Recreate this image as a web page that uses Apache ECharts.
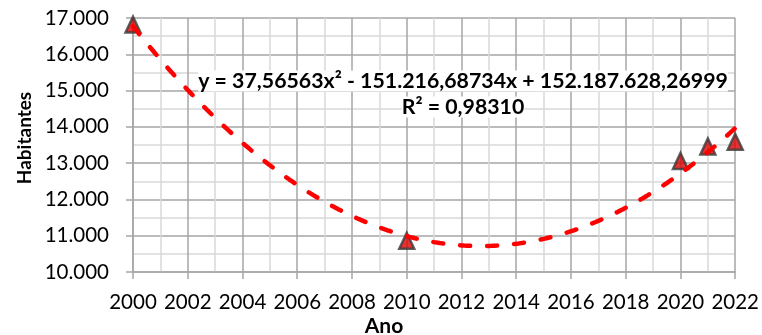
<!DOCTYPE html>
<html>
<head>
<meta charset="utf-8">
<script src="https://cdn.jsdelivr.net/npm/echarts@6/dist/echarts.min.js"></script>
<style>
  html, body { margin: 0; padding: 0; background: #ffffff; }
  #chart { width: 762px; height: 335px; }
</style>
</head>
<body>
<div id="chart"></div>
<script>
// Population by year (habitantes)
const years = [2000, 2010, 2020, 2021, 2022];
const habitantes = [16820, 10860, 13060, 13460, 13590];

// Axis ticks
const xTicks = [2000, 2022, 2];      // min, max, step
const yTicks = [10000, 17000, 1000]; // min, max, step

// Polynomial trendline (order 2): y = a*x^2 + b*x + c
const trendCoef = [37.56563, -151216.68734, 152187628.26999];
const trendR2 = 0.98310;

const fmtBR = (v, dec) => {
  const s = v.toFixed(dec);
  const parts = s.split('.');
  const neg = parts[0].startsWith('-');
  let ip = neg ? parts[0].slice(1) : parts[0];
  ip = ip.replace(/\B(?=(\d{3})+(?!\d))/g, '.');
  return (neg ? '-' : '') + ip + (parts[1] ? ',' + parts[1] : '');
};

// Sample the trendline curve across the x range
const trendData = [];
for (let i = 0; i <= 220; i++) {
  const x = xTicks[0] + i * 0.1;
  trendData.push([x, trendCoef[0] * x * x + trendCoef[1] * x + trendCoef[2]]);
}

const eqLine1 = 'y = ' + fmtBR(trendCoef[0], 5) + 'x² - ' + fmtBR(-trendCoef[1], 5) +
  'x + ' + fmtBR(trendCoef[2], 5);
const eqLine2 = 'R² = ' + fmtBR(trendR2, 5);

const FONT = 'Lato';
const majorColor = '#a6a6a6';
const minorColor = '#d9d9d9';
const textColor = '#000000';

const chart = echarts.init(document.getElementById('chart'), null, { renderer: 'canvas' });
chart.setOption({
  animation: false,
  backgroundColor: '#ffffff',
  grid: { left: 133, right: 24, top: 18, bottom: 63, containLabel: false },
  xAxis: {
    type: 'value',
    min: xTicks[0], max: xTicks[1], interval: xTicks[2],
    axisLine: { show: true, lineStyle: { color: majorColor, width: 1.5 } },
    axisTick: { show: true, length: 7, lineStyle: { color: majorColor, width: 1.5 } },
    axisLabel: { color: textColor, fontFamily: FONT, fontSize: 20.5, margin: 20,
                 formatter: v => String(v) },
    splitLine: { show: true, lineStyle: { color: majorColor, width: 1.5 } },
    minorTick: { show: false, splitNumber: 2 },
    minorSplitLine: { show: true, lineStyle: { color: minorColor, width: 1.5 } }
  },
  yAxis: {
    type: 'value',
    min: yTicks[0], max: yTicks[1], interval: yTicks[2],
    axisLine: { show: true, lineStyle: { color: majorColor, width: 1.5 } },
    axisTick: { show: true, length: 7, lineStyle: { color: majorColor, width: 1.5 } },
    axisLabel: { color: textColor, fontFamily: FONT, fontSize: 20.5, margin: 24,
                 formatter: v => fmtBR(v, 0) },
    splitLine: { show: true, lineStyle: { color: majorColor, width: 1.5 } },
    minorTick: { show: false, splitNumber: 2 },
    minorSplitLine: { show: true, lineStyle: { color: minorColor, width: 1.5 } }
  },
  series: [
    {
      name: 'Habitantes',
      type: 'scatter',
      data: years.map((y, i) => [y, habitantes[i]]),
      symbol: 'triangle',
      symbolSize: [15, 16],
      itemStyle: { color: '#dc0000', borderColor: '#3a3a3a', borderWidth: 2.5 },
      z: 3
    },
    {
      name: 'Tendência',
      type: 'line',
      data: trendData,
      showSymbol: false,
      smooth: false,
      lineStyle: { color: '#ff0000', width: 4.5, type: [10, 17], cap: 'round' },
      z: 4
    }
  ],
  graphic: [
    {
      type: 'text', x: 463, y: 81,
      style: { text: eqLine1, fill: textColor, font: 'bold 21.3px Lato',
               align: 'center', verticalAlign: 'middle', backgroundColor: '#ffffff' },
      z: 10
    },
    {
      type: 'text', x: 463, y: 107,
      style: { text: eqLine2, fill: textColor, font: 'bold 21.3px Lato',
               align: 'center', verticalAlign: 'middle', backgroundColor: '#ffffff' },
      z: 10
    },
    {
      type: 'text', x: 25, y: 138, rotation: Math.PI / 2,
      style: { text: 'Habitantes', fill: textColor, font: 'bold 19px Lato',
               align: 'center', verticalAlign: 'middle' }
    },
    {
      type: 'text', x: 384, y: 326,
      style: { text: 'Ano', fill: textColor, font: 'bold 21px Lato',
               align: 'center', verticalAlign: 'middle' }
    }
  ]
});
</script>
</body>
</html>
